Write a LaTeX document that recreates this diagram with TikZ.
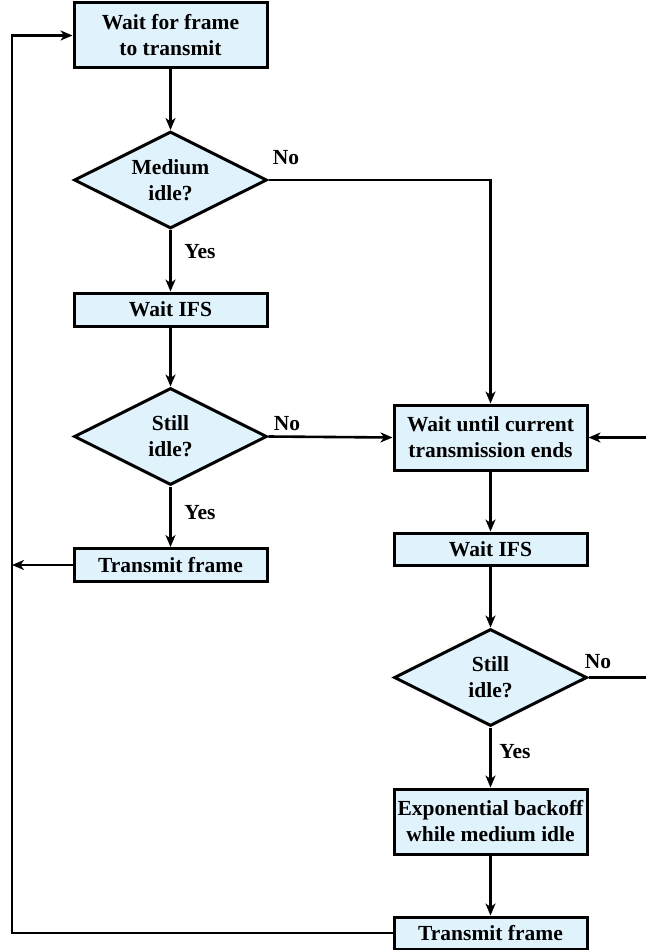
\documentclass[tikz,border=0pt]{standalone}
\usepackage{fontspec}
\setmainfont{Liberation Serif}
\usetikzlibrary{arrows.meta,shapes.geometric}

\definecolor{boxblue}{RGB}{224,242,252}

\tikzset{
  flowfont/.style={font=\bfseries\fontsize{21.5}{26}\selectfont},
  stepbox/.style={draw, line width=3pt, fill=boxblue, flowfont, align=center,
                  inner sep=0pt, minimum width=193pt},
  testbox/.style={draw, line width=3pt, fill=boxblue, flowfont, align=center,
                  diamond, aspect=2, inner sep=0pt, minimum width=193pt, minimum height=97pt},
  lbl/.style={flowfont, inner sep=0pt},
  flow/.style={line width=2.6pt, -{Stealth[length=12pt,width=10pt,inset=3.5pt]}},
  wire/.style={line width=2.6pt}
}

\begin{document}
\begin{tikzpicture}[x=1pt,y=-1pt]

    \useasboundingbox (0,0) rectangle (646,950);

    % Left column
    \node[stepbox, minimum height=65pt] (start) at (170.5,35.5) {Wait for frame\\to transmit};
    \node[testbox] (idle) at (170.5,180) {Medium\\idle?};
    \node[stepbox, minimum height=33pt] (ifsa) at (170.5,309.5) {Wait IFS};
    \node[testbox] (stilla) at (170.5,436.5) {Still\\idle?};
    \node[stepbox, minimum height=33pt] (senda) at (170.5,565) {Transmit frame};

    % Right column
    \node[stepbox, minimum height=65pt] (busy) at (490.5,437.5) {Wait until current\\transmission ends};
    \node[stepbox, minimum height=32pt] (ifsb) at (490.5,549) {Wait IFS};
    \node[testbox] (stillb) at (490.5,677.5) {Still\\idle?};
    \node[stepbox, minimum height=65pt] (backoff) at (490.5,821.5) {Exponential backoff\\while medium idle};
    \node[stepbox, minimum height=32pt] (sendb) at (490.5,933) {Transmit frame};

    % Yes / No labels
    \node[lbl] (noa) at (286,158) {No};
    \node[lbl] (yesa) at (200,252) {Yes};
    \node[lbl] (nob) at (287,424) {No};
    \node[lbl] (yesb) at (200,513) {Yes};
    \node[lbl] (noc) at (598,662) {No};
    \node[lbl] (yesc) at (515,752) {Yes};

    % Loose ends
    \coordinate (loopa) at (12,565);
    \coordinate (rightin) at (646,437.5);
    \coordinate (rightout) at (646,677.5);

    % Main path
    \draw[flow] (start) -- (idle);
    \draw[flow] (idle) -- (ifsa);
    \draw[flow] (ifsa) -- (stilla);
    \draw[flow] (stilla) -- (senda);
    \draw[flow] (senda.west) -- (loopa);

    % Busy path
    \draw[flow] (idle.east) -| (busy.north);
    \draw[flow] (stilla.east) -- (busy.west);
    \draw[flow] (rightin) -- (busy.east);
    \draw[flow] (busy) -- (ifsb);
    \draw[flow] (ifsb) -- (stillb);
    \draw[wire] (stillb.east) -- (rightout);
    \draw[flow] (stillb) -- (backoff);
    \draw[flow] (backoff) -- (sendb);

    % Back to the start
    \draw[flow] (sendb.west) -- (12,933) -- (12,35.5) -- (start.west);

\end{tikzpicture}
\end{document}
